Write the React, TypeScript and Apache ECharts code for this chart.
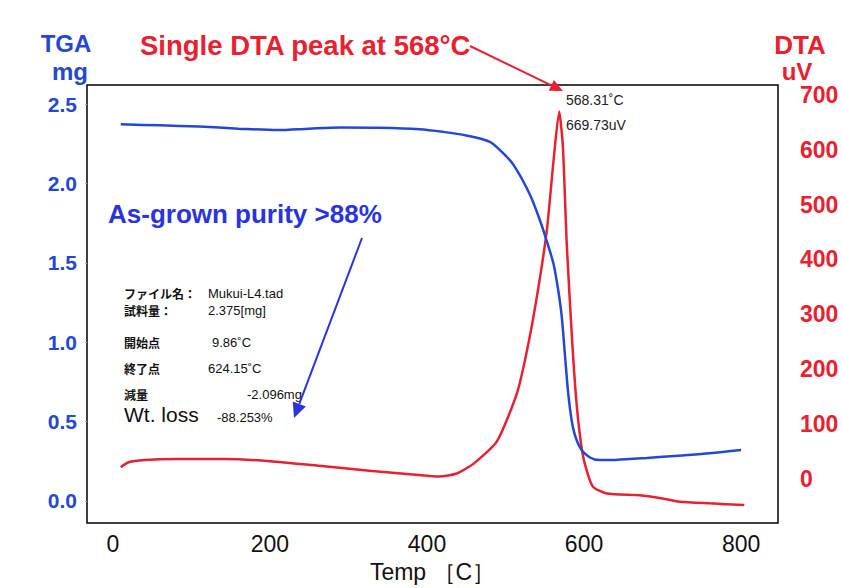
import React, { useEffect, useRef } from "react";
import * as echarts from "echarts";

// ---- data ----
const tgaTemps = [10, 60, 110, 160, 210, 250, 290, 340, 390, 420, 450, 480, 495, 510, 531, 544, 552, 561, 567, 571.5, 576, 580, 586, 595, 607, 620, 640, 680, 720, 760, 800];
const tgaValues = [2.372, 2.366, 2.358, 2.345, 2.336, 2.345, 2.352, 2.35, 2.341, 2.325, 2.302, 2.262, 2.2, 2.118, 1.93, 1.765, 1.645, 1.495, 1.33, 1.165, 0.9, 0.67, 0.46, 0.335, 0.275, 0.257, 0.258, 0.27, 0.285, 0.3, 0.32];

const dtaTemps = [10, 20, 40, 80, 143, 200, 266, 330, 404, 416, 437, 459, 489, 515, 531, 544, 553, 561, 568.31, 573, 578, 585, 591, 599, 611, 629, 671, 700, 722, 760, 804];
const dtaValues = [21, 30, 34, 36, 36, 32, 23, 14, 5, 4, 9, 27, 68, 158, 260, 368, 458, 578, 669.73, 607, 427, 248, 129, 39, -14, -27, -30, -36, -42, -45, -48];

const xTicks = [0, 200, 400, 600, 800];
const tgaTicks = [0, 0.5, 1.0, 1.5, 2.0, 2.5];
const dtaTicks = [0, 100, 200, 300, 400, 500, 600, 700];

const infoRows = [
  ["ファイル名：", "Mukui-L4.tad"],
  ["試料量：", "2.375[mg]"],
  ["開始点", "9.86˚C"],
  ["終了点", "624.15˚C"],
  ["減量", "-2.096mg"],
];

const BLUE = "#2448d4";
const RED = "#e8202f";
const FONT = '"Liberation Sans", Arial, sans-serif';
const NARROW = '"Liberation Sans Narrow", "Liberation Sans", Arial, sans-serif';
const JP = '"Noto Sans CJK JP", "Liberation Sans", sans-serif';

function arrow(x1: number, y1: number, x2: number, y2: number, color: string, lw: number, hl: number, hw: number) {
  const dx = x2 - x1, dy = y2 - y1;
  const len = Math.sqrt(dx * dx + dy * dy);
  const ux = dx / len, uy = dy / len;
  const bx = x2 - ux * hl, by = y2 - uy * hl;
  const px = -uy * hw, py = ux * hw;
  return [
    { type: "line", shape: { x1, y1, x2: bx, y2: by }, style: { stroke: color, lineWidth: lw }, z: 100 },
    { type: "polygon", shape: { points: [[x2, y2], [bx + px, by + py], [bx - px, by - py]] }, style: { fill: color }, z: 100 },
  ];
}

export default function App() {
  const ref = useRef<HTMLDivElement>(null);
  useEffect(() => {
    if (!ref.current) return;
    const chart = echarts.init(ref.current, null, { renderer: "svg" });

    const infoGraphics: any[] = [];
    const rowY = [293, 310, 342, 368, 394];
    const valX = [208, 208, 212, 208, 247];
    infoRows.forEach((r, i) => {
      infoGraphics.push({
        type: "text", x: 124, y: rowY[i],
        style: { text: r[0], fill: "#111", font: `bold 12px ${JP}`, align: "left", verticalAlign: "middle" }, z: 50,
      });
      infoGraphics.push({
        type: "text", x: valX[i], y: rowY[i],
        style: { text: r[1], fill: "#111", font: `13px ${NARROW}`, align: "left", verticalAlign: "middle" }, z: 50,
      });
    });

    const option: any = {
      animation: false,
      backgroundColor: "#ffffff",
      grid: { left: 87, top: 85, width: 691, height: 445, show: true, borderColor: "#000", borderWidth: 1.5, backgroundColor: "#fff", containLabel: false },
      xAxis: {
        type: "value", min: -33, max: 847,
        name: "Temp ［C］", nameLocation: "middle", nameGap: 32,
        nameTextStyle: { fontSize: 23, color: "#111", fontFamily: NARROW },
        axisLine: { show: false, onZero: false }, axisTick: { show: false }, splitLine: { show: false },
        axisLabel: { customValues: xTicks, fontSize: 23, color: "#111", fontFamily: FONT, margin: 9 },
      },
      yAxis: [
        {
          type: "value", min: -0.14, max: 2.62, position: "left",
          axisLine: { show: false, onZero: false }, splitLine: { show: false },
          axisTick: { show: true, customValues: tgaTicks, length: 2, lineStyle: { color: "#9fb0e6" } },
          axisLabel: { customValues: tgaTicks, formatter: (v: number) => v.toFixed(1), fontSize: 21, fontWeight: "bold", color: BLUE, fontFamily: FONT, margin: 10 },
        },
        {
          type: "value", min: -81, max: 718, position: "right",
          axisLine: { show: false, onZero: false }, splitLine: { show: false }, axisTick: { show: false },
          axisLabel: { customValues: dtaTicks, fontSize: 23, fontWeight: "bold", color: RED, fontFamily: NARROW, margin: 22 },
        },
      ],
      series: [
        {
          name: "DTA", type: "line", yAxisIndex: 1, showSymbol: false, smooth: 0.2,
          lineStyle: { color: RED, width: 2.5 },
          data: dtaTemps.map((t, i) => [t, dtaValues[i]]),
          z: 3,
        },
        {
          name: "TGA", type: "line", yAxisIndex: 0, showSymbol: false, smooth: 0.3,
          lineStyle: { color: BLUE, width: 2.5 },
          data: tgaTemps.map((t, i) => [t, tgaValues[i]]),
          z: 4,
        },
      ],
      graphic: [
        { type: "text", x: 66, y: 43, style: { text: "TGA", fill: BLUE, font: `bold 24px ${FONT}`, align: "center", verticalAlign: "middle" } },
        { type: "text", x: 70, y: 71, style: { text: "mg", fill: BLUE, font: `bold 24px ${FONT}`, align: "center", verticalAlign: "middle" } },
        { type: "text", x: 800, y: 45, style: { text: "DTA", fill: RED, font: `bold 26px ${FONT}`, align: "center", verticalAlign: "middle" } },
        { type: "text", x: 797, y: 71, style: { text: "uV", fill: RED, font: `bold 24px ${FONT}`, align: "center", verticalAlign: "middle" } },
        { type: "text", x: 140, y: 45, style: { text: "Single DTA peak at 568°C", fill: RED, font: `bold 27.5px ${FONT}`, align: "left", verticalAlign: "middle" } },
        { type: "text", x: 108, y: 214, style: { text: "As-grown purity >88%", fill: "#2a33e0", font: `bold 26px ${FONT}`, align: "left", verticalAlign: "middle" } },
        { type: "text", x: 566, y: 100, style: { text: "568.31˚C", fill: "#222", font: `14px ${NARROW}`, align: "left", verticalAlign: "middle" }, z: 50 },
        { type: "text", x: 566, y: 125, style: { text: "669.73uV", fill: "#222", font: `14px ${NARROW}`, align: "left", verticalAlign: "middle" }, z: 50 },
        ...infoGraphics,
        { type: "text", x: 124, y: 414, style: { text: "Wt. loss", fill: "#111", font: `21px ${FONT}`, align: "left", verticalAlign: "middle" }, z: 50 },
        { type: "text", x: 217, y: 417, style: { text: "-88.253%", fill: "#111", font: `13px ${NARROW}`, align: "left", verticalAlign: "middle" }, z: 50 },
        ...arrow(470, 46, 563, 91, RED, 2, 13, 6),
        ...arrow(362, 238, 294, 418, "#2a33e0", 2, 15, 7),
      ],
    };
    chart.setOption(option);
    return () => chart.dispose();
  }, []);
  return <div ref={ref} style={{ position: "absolute", left: 0, top: 0, width: 842, height: 588 }} />;
}
